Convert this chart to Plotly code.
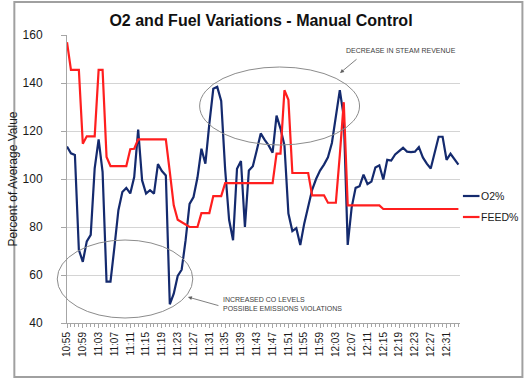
import plotly.graph_objects as go

# Category labels: one reading per minute from 10:55 to 12:34
times = [f"{(655 + k) // 60}:{(655 + k) % 60:02d}" for k in range(100)]
tick_labels = times[::4]

o2_pct = [
    113.5, 110.7, 110.0, 70.5, 65.5, 74.0, 76.7, 104.4, 116.5, 103.0,
    57.2, 57.2, 71.7, 87.0, 94.6, 96.3, 94.0, 100.8, 120.6, 99.4,
    93.9, 95.3, 93.9, 106.2, 103.3, 101.5, 47.8, 52.2, 59.6, 62.2,
    74.5, 89.6, 92.5, 100.6, 112.6, 106.4, 123.0, 137.6, 138.4, 132.5,
    104.0, 83.0, 74.5, 104.3, 107.5, 80.0, 103.6, 105.3, 112.0, 119.0,
    116.3, 114.0, 111.0, 126.4, 121.0, 114.0, 85.6, 78.3, 79.5, 72.5,
    81.4, 89.0, 95.5, 100.0, 103.5, 106.0, 109.0, 115.0, 127.0, 137.0,
    126.0, 72.5, 88.2, 96.3, 97.0, 101.8, 97.9, 98.9, 104.8, 105.7,
    99.8, 108.0, 107.7, 110.2, 111.6, 113.0, 111.4, 111.2, 111.4, 113.3,
    109.0, 106.4, 104.4, 111.0, 117.6, 117.6, 108.0, 110.5, 108.2, 106.0,
]

feed_pct = [
    157.0, 145.5, 145.5, 145.5, 114.7, 117.8, 117.8, 117.8, 145.5, 145.5,
    109.2, 105.4, 105.4, 105.4, 105.4, 105.4, 112.4, 112.6, 116.5, 116.5,
    116.5, 116.5, 116.5, 116.5, 116.5, 116.5, 103.0, 89.0, 83.0, 82.0,
    81.0, 80.0, 80.0, 80.0, 85.8, 85.8, 85.8, 92.9, 92.9, 92.9,
    98.3, 98.3, 98.3, 98.3, 98.3, 98.3, 98.3, 98.3, 98.3, 98.3,
    98.3, 98.3, 98.3, 110.6, 110.6, 137.0, 133.0, 102.5, 102.5, 102.5,
    102.5, 102.5, 93.2, 93.2, 93.2, 93.2, 90.1, 90.1, 90.1, 110.0,
    132.0, 89.0, 89.0, 89.0, 89.0, 89.0, 89.0, 89.0, 89.0, 89.0,
    87.5, 87.5, 87.5, 87.5, 87.5, 87.5, 87.5, 87.5, 87.5, 87.5,
    87.5, 87.5, 87.5, 87.5, 87.5, 87.5, 87.5, 87.5, 87.5, 87.5,
]

series_names = ["O2%", "FEED%"]
y_ticks = [40, 60, 80, 100, 120, 140, 160]

BLUE = "#142a6e"
RED = "#ff1f1f"
GRID = "#d4d4d4"
AXIS = "#a6a6a6"
FONT = "Liberation Sans, Arial, sans-serif"

fig = go.Figure()
fig.add_trace(go.Scatter(x=times, y=o2_pct, mode="lines", name=series_names[0],
                         line=dict(color=BLUE, width=2.2), showlegend=False))
fig.add_trace(go.Scatter(x=times, y=feed_pct, mode="lines", name=series_names[1],
                         line=dict(color=RED, width=2.2), showlegend=False))

# plot area: x 57..460 px, y 35..323 px
L, R, T, B = 57, 460, 35, 323
W, H = R - L, B - T
def px(x):
    return (x - L) / W
def py(y):
    return (B - y) / H

shapes = [
    # outer chart border
    dict(type="rect", xref="paper", yref="paper", x0=px(3), x1=px(524), y0=py(377), y1=py(2),
         line=dict(color="#a0a0a0", width=2)),
    # ellipses
    dict(type="circle", xref="paper", yref="paper", x0=px(47), x1=px(186), y0=py(318), y1=py(240),
         line=dict(color="#8c8c8c", width=1)),
    dict(type="circle", xref="paper", yref="paper", x0=px(193), x1=px(357), y0=py(145), y1=py(67),
         line=dict(color="#8c8c8c", width=1)),
    # legend line samples
    dict(type="line", xref="paper", yref="paper", x0=px(463), x1=px(480), y0=py(196), y1=py(196),
         line=dict(color=BLUE, width=2.2)),
    dict(type="line", xref="paper", yref="paper", x0=px(463), x1=px(480), y0=py(217), y1=py(217),
         line=dict(color=RED, width=2.2)),
]

annotations = [
    dict(xref="paper", yref="paper", x=px(479), y=py(196), text=series_names[0], showarrow=False,
         xanchor="left", yanchor="middle", font=dict(size=10.5, color="#1a1a1a", family=FONT)),
    dict(xref="paper", yref="paper", x=px(479), y=py(217), text=series_names[1], showarrow=False,
         xanchor="left", yanchor="middle", font=dict(size=10.5, color="#1a1a1a", family=FONT)),
    dict(xref="paper", yref="paper", x=px(399), y=py(50), text="DECREASE IN STEAM REVENUE",
         showarrow=False, xanchor="center", yanchor="middle",
         font=dict(size=7, color="#404040", family=FONT)),
    dict(xref="paper", yref="paper", x=px(215), y=py(304), align="left",
         text="INCREASED CO LEVELS<br>POSSIBLE EMISSIONS VIOLATIONS",
         showarrow=False, xanchor="left", yanchor="middle",
         font=dict(size=7, color="#404040", family=FONT)),
    dict(xref="paper", yref="paper", x=px(337), y=py(73), text="", showarrow=True,
         ax=18, ay=-15, arrowhead=2, arrowsize=1, arrowwidth=0.8, arrowcolor="#606060"),
    dict(xref="paper", yref="paper", x=px(181), y=py(297), text="", showarrow=True,
         ax=32, ay=9, arrowhead=2, arrowsize=1, arrowwidth=0.8, arrowcolor="#606060"),
]

fig.update_layout(
    width=530, height=382, autosize=False,
    margin=dict(l=L, r=530 - R, t=T, b=382 - B),
    paper_bgcolor="white", plot_bgcolor="white",
    font=dict(family=FONT, color="#1a1a1a"),
    title=dict(text="<b>O2 and Fuel Variations - Manual Control</b>", x=261 / 530, y=1 - 20 / 382,
               xanchor="center", yanchor="middle", font=dict(size=16, color="#111111", family=FONT)),
    shapes=shapes, annotations=annotations, showlegend=False,
)

fig.update_xaxes(
    type="category", range=[0, 99.4],
    tickmode="array", tickvals=tick_labels, ticktext=tick_labels, tickangle=-90,
    tickfont=dict(size=10, color="#1a1a1a"),
    showline=True, linecolor=AXIS, linewidth=1,
    ticks="outside", ticklen=4, tickcolor=AXIS,
    minor=dict(ticks="outside", ticklen=3, tickcolor=AXIS, dtick=1, showgrid=False),
    showgrid=False, zeroline=False,
)
fig.update_yaxes(
    range=[40, 160], tickmode="array", tickvals=y_ticks,
    tickfont=dict(size=12, color="#1a1a1a"),
    showline=True, linecolor=AXIS, linewidth=1,
    ticks="outside", ticklen=5, tickcolor=AXIS, ticklabelstandoff=16,
    showgrid=True, gridcolor=GRID, gridwidth=1.3, zeroline=False,
    title=dict(text="Percent of Average Value", font=dict(size=12, color="#1a1a1a"), standoff=2),
)

fig.write_html("out.html", config={"displayModeBar": False},
               post_script="document.body.style.margin='0';")
